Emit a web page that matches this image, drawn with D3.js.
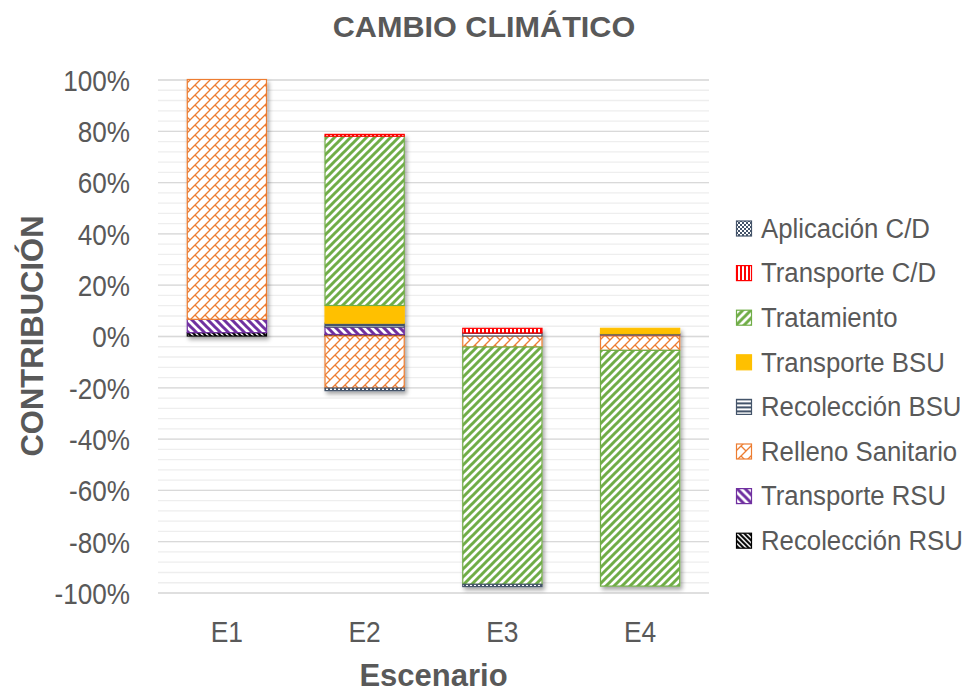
<!DOCTYPE html>
<html>
<head>
<meta charset="utf-8">
<script src="https://cdn.jsdelivr.net/npm/d3@7"></script>
<style>
  body { margin: 0; background: #fff; }
  svg text { font-family: "Liberation Sans", Arial, sans-serif; fill: #595959; }
</style>
</head>
<body>
<div id="chart"></div>
<script>
// scenarios and series (stack order = Excel series order)
var scenarios = ["E1", "E2", "E3", "E4"];
var seriesNames = ["Recolección RSU", "Transporte RSU", "Relleno Sanitario", "Recolección BSU",
                   "Transporte BSU", "Tratamiento", "Transporte C/D", "Aplicación C/D"];

// contribution of each stage per scenario (fraction of total)
var recoleccionRSU   = [0.013,  0.006,  0,      0];
var transporteRSU    = [0.052,  0.029,  0,      0.005];
var rellenoSanitario = [0.935, -0.203, -0.043, -0.056];
var recoleccionBSU   = [0,      0.015,  0.012,  0.004];
var transporteBSU    = [0,      0.069,  0,      0.021];
var tratamiento      = [0,      0.660, -0.925, -0.919];
var transporteCD     = [0,      0.007,  0.018,  0];
var aplicacionCD     = [0,     -0.010, -0.009,  0];

var yTicks = [-1, -0.8, -0.6, -0.4, -0.2, 0, 0.2, 0.4, 0.6, 0.8, 1];

var width = 969, height = 692;
var margin = {left: 158, right: 260, top: 79.5, bottom: 99.5};
var plotW = width - margin.left - margin.right;

var seriesValues = [recoleccionRSU, transporteRSU, rellenoSanitario, recoleccionBSU,
                    transporteBSU, tratamiento, transporteCD, aplicacionCD];

// rows for d3.stack
var rows = scenarios.map(function (s, i) {
    var r = {scenario: s};
    seriesNames.forEach(function (n, j) { r[n] = seriesValues[j][i]; });
    return r;
});

var stacked = d3.stack()
    .keys(seriesNames)
    .offset(d3.stackOffsetDiverging)(rows);

var x = d3.scaleBand()
    .domain(scenarios)
    .range([margin.left, margin.left + plotW])
    .paddingInner(0.425)
    .paddingOuter(0.2125);

var y = d3.scaleLinear()
    .domain([-1, 1])
    .range([height - margin.bottom, margin.top]);

var svg = d3.select('#chart').append('svg')
    .attr('width', width)
    .attr('height', height);

var defs = svg.append('defs');

// drop shadow like excel
var shadow = defs.append('filter').attr('id', 'shadow')
    .attr('x', '-10%').attr('y', '-10%').attr('width', '130%').attr('height', '130%');
shadow.append('feDropShadow')
    .attr('dx', 2).attr('dy', 3).attr('stdDeviation', 2)
    .attr('flood-color', '#000').attr('flood-opacity', 0.35);

// pattern fills, one per series
function makePattern(id, size, color, draw) {
    var p = defs.append('pattern')
        .attr('id', id)
        .attr('patternUnits', 'userSpaceOnUse')
        .attr('width', size).attr('height', size);
    p.append('rect').attr('width', size).attr('height', size).attr('fill', '#fff');
    draw(p, color, size);
}

var colors = {
    "Recolección RSU": "#000000",
    "Transporte RSU": "#7030A0",
    "Relleno Sanitario": "#ED7D31",
    "Recolección BSU": "#44546A",
    "Transporte BSU": "#FFC000",
    "Tratamiento": "#70AD47",
    "Transporte C/D": "#FF0000",
    "Aplicación C/D": "#44546A"
};

function diag(p, c, s, w, up) {
    var d = up ? 'M0,' + s + 'L' + s + ',0M-2,2L2,-2M' + (s - 2) + ',' + (s + 2) + 'L' + (s + 2) + ',' + (s - 2)
               : 'M0,0L' + s + ',' + s + 'M-2,' + (s - 2) + 'L2,' + (s + 2) + 'M' + (s - 2) + ',-2L' + (s + 2) + ',2';
    p.append('path').attr('d', d).attr('stroke', c).attr('stroke-width', w);
}

makePattern('p0', 5, colors["Recolección RSU"], function (p, c, s) { diag(p, c, s, 2, false); });
makePattern('p1', 8, colors["Transporte RSU"], function (p, c, s) { diag(p, c, s, 3, false); });
// diagonal brick
makePattern('p2', 10, colors["Relleno Sanitario"], function (p, c, s) {
    p.append('path')
        .attr('d', 'M0,10L10,0M5,5L10,10M-1,1L1,-1M9,11L11,9')
        .attr('stroke', c).attr('stroke-width', 1.3).attr('fill', 'none');
});
makePattern('p3', 4, colors["Recolección BSU"], function (p, c, s) {
    p.append('rect').attr('y', 0).attr('width', s).attr('height', 2).attr('fill', c);
});
makePattern('p4', 4, colors["Transporte BSU"], function (p, c, s) {
    p.append('rect').attr('width', s).attr('height', s).attr('fill', c);
});
makePattern('p5', 8, colors["Tratamiento"], function (p, c, s) { diag(p, c, s, 3, true); });
makePattern('p6', 4, colors["Transporte C/D"], function (p, c, s) {
    p.append('rect').attr('x', 0).attr('width', 2).attr('height', s).attr('fill', c);
});
makePattern('p7', 4, colors["Aplicación C/D"], function (p, c, s) {
    p.append('rect').attr('width', 2).attr('height', 2).attr('fill', c);
    p.append('rect').attr('x', 2).attr('y', 2).attr('width', 2).attr('height', 2).attr('fill', c);
});

function fillOf(name) { return 'url(#p' + seriesNames.indexOf(name) + ')'; }

// no narrow font installed, so squeeze text horizontally
function squeeze(sel, k) { sel.attr('transform', 'scale(' + k + ',1)'); }
function placeText(sel, px, py, k, rot) {
    sel.attr('transform', 'translate(' + px + ',' + py + ')' + (rot ? ' rotate(' + rot + ')' : '') + ' scale(' + k + ',1)');
}

// minor gridlines every 4%
svg.append('g')
    .attr('transform', 'translate(' + margin.left + ',0)')
    .call(d3.axisLeft(y).tickValues(d3.range(-100, 101, 4).map(function (v) { return v / 100; }))
        .tickSize(-plotW).tickFormat(''))
    .call(function (g) {
        g.select('.domain').remove();
        g.selectAll('line').attr('stroke', '#eeeeee').attr('stroke-width', 1.3);
    });

// major gridlines every 20%
svg.append('g')
    .attr('transform', 'translate(' + margin.left + ',0)')
    .call(d3.axisLeft(y).tickValues(yTicks).tickSize(-plotW).tickFormat(''))
    .call(function (g) {
        g.select('.domain').remove();
        g.selectAll('line').attr('stroke', '#d9d9d9').attr('stroke-width', 1.3);
    });

// y tick labels
svg.append('g')
    .attr('transform', 'translate(' + (margin.left - 28) + ',0)')
    .call(d3.axisLeft(y).tickValues(yTicks).tickSize(0).tickPadding(0)
        .tickFormat(function (d) { return Math.round(d * 100) + '%'; }))
    .call(function (g) {
        g.select('.domain').remove();
        g.selectAll('text').style('font-size', '30px').attr('fill', '#595959').attr('dy', '0.36em')
            .call(squeeze, 0.87);
    });

// bars, one group per scenario so the shadow wraps the whole column
var cols = svg.append('g').selectAll('.col')
    .data(scenarios)
    .enter().append('g')
    .attr('class', 'col')
    .attr('filter', 'url(#shadow)');

cols.selectAll('rect')
    .data(function (s, i) {
        return stacked.map(function (layer) {
            return {key: layer.key, y0: layer[i][0], y1: layer[i][1], scenario: s};
        }).filter(function (d) { return d.y1 !== d.y0; });
    })
    .enter().append('rect')
    .attr('x', function (d) { return x(d.scenario); })
    .attr('width', x.bandwidth())
    .attr('y', function (d) { return y(Math.max(d.y0, d.y1)); })
    .attr('height', function (d) { return Math.abs(y(d.y0) - y(d.y1)); })
    .attr('fill', function (d) { return fillOf(d.key); })
    .attr('stroke', function (d) { return colors[d.key]; })
    .attr('stroke-width', 1.2);

// x labels
svg.append('g')
    .attr('transform', 'translate(0,' + (y(-1) + 49) + ')')
    .call(d3.axisBottom(x).tickSize(0).tickPadding(0))
    .call(function (g) {
        g.select('.domain').remove();
        g.selectAll('text').style('font-size', '30px').attr('fill', '#595959').attr('dy', 0)
            .call(squeeze, 0.88);
    });

// titles
svg.append('text')
    .attr('text-anchor', 'middle')
    .style('font-size', '30px').style('font-weight', 'bold')
    .text('CAMBIO CLIMÁTICO')
    .call(placeText, 484, 37, 1.02);

svg.append('text')
    .attr('text-anchor', 'middle')
    .style('font-size', '31px').style('font-weight', 'bold')
    .text('Escenario')
    .call(placeText, margin.left + plotW / 2, 686, 1);

svg.append('text')
    .attr('text-anchor', 'middle')
    .style('font-size', '31px').style('font-weight', 'bold')
    .text('CONTRIBUCIÓN')
    .call(placeText, 43, y(0), 1, -90);

// legend, reversed like excel
var legendNames = seriesNames.slice().reverse();
var legend = svg.append('g').selectAll('.leg')
    .data(legendNames)
    .enter().append('g')
    .attr('class', 'leg')
    .attr('transform', function (d, i) { return 'translate(736,' + (228 + i * 44.6) + ')'; });

legend.append('rect')
    .attr('x', 0.5).attr('y', -7)
    .attr('width', 15).attr('height', 15)
    .attr('fill', function (d) { return fillOf(d); })
    .attr('stroke', function (d) { return colors[d]; })
    .attr('stroke-width', 1.2);

legend.append('text')
    .attr('dy', '0.36em')
    .style('font-size', '27px')
    .text(function (d) { return d; })
    .call(placeText, 25, 0, 0.955);
</script>
</body>
</html>
